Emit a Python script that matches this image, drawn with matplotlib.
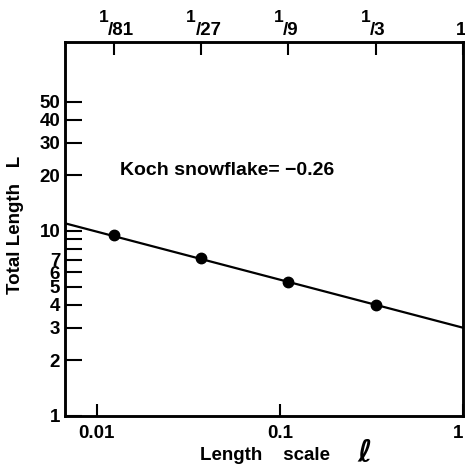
import matplotlib
matplotlib.use('Agg')
import matplotlib.pyplot as plt
import matplotlib.transforms as mtransforms
from matplotlib.ticker import FixedLocator, NullLocator

plt.rcParams['font.family'] = ['Liberation Sans', 'DejaVu Sans']
plt.rcParams['font.weight'] = 'bold'

# 测量点：长度尺度与总长度
scale = [1/81, 1/27, 1/9, 1/3]
total_length = [9.48, 7.11, 5.33, 4.0]

# 拟合直线的两个端点
fit_scale = [0.0067, 1.0]
fit_length = [11.0, 3.0]

# 坐标刻度
x_ticks = [0.01, 0.1, 1]
x_tick_labels = ['0.01', '0.1', '1']
y_ticks = [1, 2, 3, 4, 5, 6, 7, 8, 9, 10, 20, 30, 40, 50]
y_tick_labels = ['1', '2', '3', '4', '5', '6', '7', '', '', '10', '20', '30', '40', '50']
top_ticks = [1/81, 1/27, 1/9, 1/3, 1]
top_denoms = ['81', '27', '9', '3']

fig = plt.figure(figsize=(4.65, 4.67), dpi=100)
ax = fig.add_axes([65/465, 51/467, 398/465, 374/467])
ax.set_xscale('log')
ax.set_yscale('log')
ax.set_xlim(0.0067, 1)
ax.set_ylim(1, 105)

ax.plot(fit_scale, fit_length, color='black', lw=1.6, zorder=3)
ax.plot(scale, total_length, 'o', color='black', ms=7.5, zorder=4)

for sp in ax.spines.values():
    sp.set_linewidth(1.8)

ax.xaxis.set_major_locator(FixedLocator(x_ticks))
ax.xaxis.set_minor_locator(NullLocator())
ax.set_xticklabels(x_tick_labels)
ax.yaxis.set_major_locator(FixedLocator(y_ticks))
ax.yaxis.set_minor_locator(NullLocator())
ax.set_yticklabels(y_tick_labels)
ax.tick_params(direction='in', width=1.5, labelsize=13.5)
ax.tick_params(axis='y', length=12, pad=3.5)
ax.tick_params(axis='x', length=9, pad=6.5)
# 右下角的 "1" 贴着边框，右对齐避免出界
ax.get_xticklabels()[-1].set_ha('right')

# 顶部坐标轴：1/81 ... 1
ax_top = ax.twiny()
ax_top.set_xscale('log')
ax_top.set_xlim(ax.get_xlim())
ax_top.xaxis.set_major_locator(FixedLocator(top_ticks))
ax_top.xaxis.set_minor_locator(NullLocator())
ax_top.set_xticklabels([''] * len(top_ticks))
ax_top.tick_params(direction='in', width=1.5, length=9)
for sp in ax_top.spines.values():
    sp.set_linewidth(1.8)

trans = mtransforms.blended_transform_factory(ax.transData, ax.transAxes)
for t, d in zip(top_ticks[:-1], top_denoms):
    ax.annotate('1', xy=(t, 1), xycoords=trans, xytext=(-3.5, 14.2),
                textcoords='offset points', ha='right', va='baseline',
                fontsize=12.5, annotation_clip=False)
    ax.annotate('/' + d, xy=(t, 1), xycoords=trans, xytext=(-4.0, 5),
                textcoords='offset points', ha='left', va='baseline',
                fontsize=13.5, annotation_clip=False)
ax.annotate('1', xy=(top_ticks[-1], 1), xycoords=trans, xytext=(-1.5, 5),
            textcoords='offset points', ha='center', va='baseline',
            fontsize=13.5, annotation_clip=False)

ax.text(0.138, 0.644, 'Koch snowflake= \u22120.26', transform=ax.transAxes,
        ha='left', va='baseline', fontsize=14)

# 坐标轴标题
fig.text(264.5/465, 1 - 460/467, 'Length    scale', ha='center', va='baseline',
         fontsize=13.5)
fig.text(365/465, 1 - 462/467, '\u2113', family='DejaVu Sans', style='italic',
         weight='bold', ha='center', va='baseline', fontsize=22)
fig.text(16/465, 1 - 224.5/467, 'Total Length   L', rotation=90,
         ha='center', va='center', fontsize=13.5)

fig.savefig('out.png', dpi=100)
